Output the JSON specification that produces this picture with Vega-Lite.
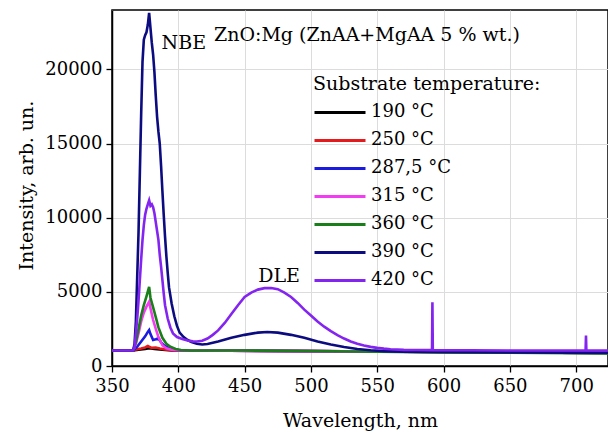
{
  "$schema": "https://vega.github.io/schema/vega-lite/v6.json",
  "width": 496,
  "height": 356,
  "autosize": {"type": "none"},
  "padding": {"left": 112, "top": 10, "right": 0, "bottom": 67},
  "background": "white",
  "config": {
    "font": "DejaVu Serif",
    "view": {"stroke": "black", "strokeWidth": 1.5},
    "axis": {
      "labelFont": "DejaVu Serif", "titleFont": "DejaVu Serif",
      "labelFontSize": 18, "titleFontSize": 19, "titleFontWeight": "normal",
      "labelColor": "black", "titleColor": "black",
      "domainColor": "black", "domainWidth": 1.5,
      "tickColor": "black", "tickWidth": 1.3,
      "gridColor": "#dcdcdc", "gridWidth": 1
    },
    "legend": {
      "labelFont": "DejaVu Serif", "titleFont": "DejaVu Serif",
      "labelFontSize": 18, "titleFontSize": 19, "titleFontWeight": "normal",
      "labelColor": "black", "titleColor": "black"
    }
  },
  "datasets": {
    "spectra": [
      {"wl": 350, "I": 1050, "T": "190 °C"}, {"wl": 366, "I": 1050, "T": "190 °C"}, {"wl": 370, "I": 1100, "T": "190 °C"}, {"wl": 375, "I": 1150, "T": "190 °C"}, {"wl": 378, "I": 1200, "T": "190 °C"}, {"wl": 382, "I": 1150, "T": "190 °C"}, {"wl": 388, "I": 1100, "T": "190 °C"}, {"wl": 395, "I": 1050, "T": "190 °C"}, {"wl": 450, "I": 1030, "T": "190 °C"}, {"wl": 550, "I": 980, "T": "190 °C"}, {"wl": 650, "I": 920, "T": "190 °C"}, {"wl": 724, "I": 880, "T": "190 °C"},

      {"wl": 350, "I": 1050, "T": "250 °C"}, {"wl": 366, "I": 1050, "T": "250 °C"}, {"wl": 368, "I": 1120, "T": "250 °C"}, {"wl": 372, "I": 1180, "T": "250 °C"}, {"wl": 375, "I": 1250, "T": "250 °C"}, {"wl": 377, "I": 1350, "T": "250 °C"}, {"wl": 378, "I": 1300, "T": "250 °C"}, {"wl": 380, "I": 1220, "T": "250 °C"}, {"wl": 383, "I": 1250, "T": "250 °C"}, {"wl": 386, "I": 1180, "T": "250 °C"}, {"wl": 390, "I": 1120, "T": "250 °C"}, {"wl": 395, "I": 1060, "T": "250 °C"}, {"wl": 400, "I": 1050, "T": "250 °C"}, {"wl": 420, "I": 1040, "T": "250 °C"}, {"wl": 500, "I": 1000, "T": "250 °C"}, {"wl": 600, "I": 940, "T": "250 °C"}, {"wl": 724, "I": 880, "T": "250 °C"},

      {"wl": 350, "I": 1050, "T": "287,5 °C"}, {"wl": 366, "I": 1050, "T": "287,5 °C"}, {"wl": 369, "I": 1300, "T": "287,5 °C"}, {"wl": 372, "I": 1650, "T": "287,5 °C"}, {"wl": 375, "I": 2000, "T": "287,5 °C"}, {"wl": 377, "I": 2300, "T": "287,5 °C"}, {"wl": 378, "I": 2420, "T": "287,5 °C"}, {"wl": 379, "I": 2150, "T": "287,5 °C"}, {"wl": 381, "I": 1750, "T": "287,5 °C"}, {"wl": 383, "I": 1800, "T": "287,5 °C"}, {"wl": 385, "I": 1860, "T": "287,5 °C"}, {"wl": 387, "I": 1600, "T": "287,5 °C"}, {"wl": 389, "I": 1400, "T": "287,5 °C"}, {"wl": 392, "I": 1250, "T": "287,5 °C"}, {"wl": 396, "I": 1120, "T": "287,5 °C"}, {"wl": 400, "I": 1070, "T": "287,5 °C"}, {"wl": 420, "I": 1040, "T": "287,5 °C"}, {"wl": 500, "I": 1000, "T": "287,5 °C"}, {"wl": 600, "I": 940, "T": "287,5 °C"}, {"wl": 724, "I": 880, "T": "287,5 °C"},

      {"wl": 350, "I": 1050, "T": "315 °C"}, {"wl": 366, "I": 1050, "T": "315 °C"}, {"wl": 368, "I": 1500, "T": "315 °C"}, {"wl": 370, "I": 2200, "T": "315 °C"}, {"wl": 372, "I": 3000, "T": "315 °C"}, {"wl": 374, "I": 3600, "T": "315 °C"}, {"wl": 376, "I": 4000, "T": "315 °C"}, {"wl": 378, "I": 4330, "T": "315 °C"}, {"wl": 379, "I": 3900, "T": "315 °C"}, {"wl": 381, "I": 3100, "T": "315 °C"}, {"wl": 383, "I": 2500, "T": "315 °C"}, {"wl": 385, "I": 1950, "T": "315 °C"}, {"wl": 388, "I": 1400, "T": "315 °C"}, {"wl": 391, "I": 1200, "T": "315 °C"}, {"wl": 395, "I": 1100, "T": "315 °C"}, {"wl": 400, "I": 1070, "T": "315 °C"}, {"wl": 420, "I": 1040, "T": "315 °C"}, {"wl": 500, "I": 1000, "T": "315 °C"}, {"wl": 600, "I": 940, "T": "315 °C"}, {"wl": 724, "I": 880, "T": "315 °C"},

      {"wl": 350, "I": 1050, "T": "360 °C"}, {"wl": 366, "I": 1050, "T": "360 °C"}, {"wl": 368, "I": 1600, "T": "360 °C"}, {"wl": 370, "I": 2500, "T": "360 °C"}, {"wl": 372, "I": 3400, "T": "360 °C"}, {"wl": 374, "I": 4100, "T": "360 °C"}, {"wl": 376, "I": 4700, "T": "360 °C"}, {"wl": 378, "I": 5340, "T": "360 °C"}, {"wl": 379, "I": 4600, "T": "360 °C"}, {"wl": 381, "I": 3950, "T": "360 °C"}, {"wl": 383, "I": 3300, "T": "360 °C"}, {"wl": 385, "I": 2600, "T": "360 °C"}, {"wl": 388, "I": 1900, "T": "360 °C"}, {"wl": 391, "I": 1500, "T": "360 °C"}, {"wl": 394, "I": 1300, "T": "360 °C"}, {"wl": 398, "I": 1150, "T": "360 °C"}, {"wl": 402, "I": 1080, "T": "360 °C"}, {"wl": 410, "I": 1050, "T": "360 °C"}, {"wl": 450, "I": 1040, "T": "360 °C"}, {"wl": 500, "I": 1010, "T": "360 °C"}, {"wl": 550, "I": 960, "T": "360 °C"}, {"wl": 600, "I": 920, "T": "360 °C"}, {"wl": 650, "I": 890, "T": "360 °C"}, {"wl": 700, "I": 860, "T": "360 °C"}, {"wl": 724, "I": 850, "T": "360 °C"},

      {"wl": 350, "I": 1050, "T": "390 °C"}, {"wl": 366, "I": 1050, "T": "390 °C"}, {"wl": 367, "I": 1500, "T": "390 °C"}, {"wl": 368, "I": 3000, "T": "390 °C"}, {"wl": 369, "I": 6000, "T": "390 °C"}, {"wl": 370, "I": 9000, "T": "390 °C"}, {"wl": 371, "I": 13000, "T": "390 °C"}, {"wl": 372, "I": 17000, "T": "390 °C"}, {"wl": 373, "I": 20500, "T": "390 °C"}, {"wl": 374, "I": 22000, "T": "390 °C"}, {"wl": 375, "I": 22300, "T": "390 °C"}, {"wl": 376, "I": 22500, "T": "390 °C"}, {"wl": 377, "I": 23000, "T": "390 °C"}, {"wl": 378, "I": 23800, "T": "390 °C"}, {"wl": 379, "I": 22800, "T": "390 °C"}, {"wl": 380, "I": 21800, "T": "390 °C"}, {"wl": 381, "I": 21000, "T": "390 °C"}, {"wl": 382, "I": 19800, "T": "390 °C"}, {"wl": 383, "I": 18200, "T": "390 °C"}, {"wl": 384, "I": 16800, "T": "390 °C"}, {"wl": 385, "I": 15800, "T": "390 °C"}, {"wl": 386, "I": 15000, "T": "390 °C"}, {"wl": 387, "I": 13500, "T": "390 °C"}, {"wl": 388, "I": 11800, "T": "390 °C"}, {"wl": 389, "I": 10200, "T": "390 °C"}, {"wl": 390, "I": 8700, "T": "390 °C"}, {"wl": 391, "I": 7400, "T": "390 °C"}, {"wl": 392, "I": 6300, "T": "390 °C"}, {"wl": 393, "I": 5300, "T": "390 °C"}, {"wl": 395, "I": 4200, "T": "390 °C"}, {"wl": 397, "I": 3350, "T": "390 °C"}, {"wl": 399, "I": 2700, "T": "390 °C"}, {"wl": 401, "I": 2250, "T": "390 °C"}, {"wl": 404, "I": 1950, "T": "390 °C"}, {"wl": 407, "I": 1750, "T": "390 °C"}, {"wl": 410, "I": 1620, "T": "390 °C"}, {"wl": 414, "I": 1500, "T": "390 °C"}, {"wl": 418, "I": 1450, "T": "390 °C"}, {"wl": 422, "I": 1480, "T": "390 °C"}, {"wl": 430, "I": 1650, "T": "390 °C"}, {"wl": 440, "I": 1900, "T": "390 °C"}, {"wl": 450, "I": 2100, "T": "390 °C"}, {"wl": 460, "I": 2250, "T": "390 °C"}, {"wl": 467, "I": 2290, "T": "390 °C"}, {"wl": 475, "I": 2250, "T": "390 °C"}, {"wl": 485, "I": 2100, "T": "390 °C"}, {"wl": 495, "I": 1900, "T": "390 °C"}, {"wl": 505, "I": 1650, "T": "390 °C"}, {"wl": 515, "I": 1450, "T": "390 °C"}, {"wl": 525, "I": 1280, "T": "390 °C"}, {"wl": 535, "I": 1150, "T": "390 °C"}, {"wl": 545, "I": 1060, "T": "390 °C"}, {"wl": 555, "I": 1000, "T": "390 °C"}, {"wl": 570, "I": 960, "T": "390 °C"}, {"wl": 600, "I": 940, "T": "390 °C"}, {"wl": 650, "I": 920, "T": "390 °C"}, {"wl": 700, "I": 900, "T": "390 °C"}, {"wl": 724, "I": 890, "T": "390 °C"},

      {"wl": 350, "I": 1050, "T": "420 °C"}, {"wl": 366, "I": 1050, "T": "420 °C"}, {"wl": 367, "I": 1300, "T": "420 °C"}, {"wl": 368, "I": 2200, "T": "420 °C"}, {"wl": 369, "I": 3200, "T": "420 °C"}, {"wl": 370, "I": 4400, "T": "420 °C"}, {"wl": 371, "I": 5800, "T": "420 °C"}, {"wl": 372, "I": 7200, "T": "420 °C"}, {"wl": 373, "I": 8480, "T": "420 °C"}, {"wl": 374, "I": 9500, "T": "420 °C"}, {"wl": 375, "I": 10200, "T": "420 °C"}, {"wl": 376, "I": 10600, "T": "420 °C"}, {"wl": 377, "I": 10900, "T": "420 °C"}, {"wl": 378, "I": 11170, "T": "420 °C"}, {"wl": 379, "I": 10800, "T": "420 °C"}, {"wl": 380, "I": 10900, "T": "420 °C"}, {"wl": 381, "I": 10700, "T": "420 °C"}, {"wl": 382, "I": 10300, "T": "420 °C"}, {"wl": 383, "I": 9700, "T": "420 °C"}, {"wl": 384, "I": 9100, "T": "420 °C"}, {"wl": 385, "I": 8500, "T": "420 °C"}, {"wl": 386, "I": 7500, "T": "420 °C"}, {"wl": 387, "I": 6700, "T": "420 °C"}, {"wl": 388, "I": 5800, "T": "420 °C"}, {"wl": 389, "I": 4900, "T": "420 °C"}, {"wl": 390, "I": 4100, "T": "420 °C"}, {"wl": 392, "I": 3200, "T": "420 °C"}, {"wl": 394, "I": 2600, "T": "420 °C"}, {"wl": 396, "I": 2200, "T": "420 °C"}, {"wl": 399, "I": 1950, "T": "420 °C"}, {"wl": 403, "I": 1820, "T": "420 °C"}, {"wl": 407, "I": 1720, "T": "420 °C"}, {"wl": 411, "I": 1660, "T": "420 °C"}, {"wl": 414, "I": 1650, "T": "420 °C"}, {"wl": 418, "I": 1700, "T": "420 °C"}, {"wl": 422, "I": 1850, "T": "420 °C"}, {"wl": 426, "I": 2100, "T": "420 °C"}, {"wl": 430, "I": 2400, "T": "420 °C"}, {"wl": 435, "I": 2900, "T": "420 °C"}, {"wl": 440, "I": 3500, "T": "420 °C"}, {"wl": 445, "I": 4100, "T": "420 °C"}, {"wl": 450, "I": 4650, "T": "420 °C"}, {"wl": 455, "I": 4950, "T": "420 °C"}, {"wl": 460, "I": 5150, "T": "420 °C"}, {"wl": 465, "I": 5250, "T": "420 °C"}, {"wl": 470, "I": 5260, "T": "420 °C"}, {"wl": 475, "I": 5180, "T": "420 °C"}, {"wl": 480, "I": 4950, "T": "420 °C"}, {"wl": 485, "I": 4650, "T": "420 °C"}, {"wl": 490, "I": 4250, "T": "420 °C"}, {"wl": 495, "I": 3800, "T": "420 °C"}, {"wl": 500, "I": 3400, "T": "420 °C"}, {"wl": 505, "I": 3000, "T": "420 °C"}, {"wl": 510, "I": 2650, "T": "420 °C"}, {"wl": 515, "I": 2350, "T": "420 °C"}, {"wl": 520, "I": 2080, "T": "420 °C"}, {"wl": 525, "I": 1850, "T": "420 °C"}, {"wl": 530, "I": 1650, "T": "420 °C"}, {"wl": 535, "I": 1500, "T": "420 °C"}, {"wl": 540, "I": 1380, "T": "420 °C"}, {"wl": 545, "I": 1290, "T": "420 °C"}, {"wl": 550, "I": 1220, "T": "420 °C"}, {"wl": 555, "I": 1170, "T": "420 °C"}, {"wl": 560, "I": 1130, "T": "420 °C"}, {"wl": 570, "I": 1090, "T": "420 °C"}, {"wl": 580, "I": 1075, "T": "420 °C"}, {"wl": 591.3, "I": 1070, "T": "420 °C"}, {"wl": 591.6, "I": 4300, "T": "420 °C"}, {"wl": 591.9, "I": 1070, "T": "420 °C"}, {"wl": 620, "I": 1060, "T": "420 °C"}, {"wl": 650, "I": 1050, "T": "420 °C"}, {"wl": 680, "I": 1050, "T": "420 °C"}, {"wl": 707.1, "I": 1050, "T": "420 °C"}, {"wl": 707.4, "I": 2060, "T": "420 °C"}, {"wl": 707.7, "I": 1050, "T": "420 °C"}, {"wl": 724, "I": 1045, "T": "420 °C"}
    ],
    "notes": [
      {"wl": 387.4, "I": 21770, "label": "NBE"},
      {"wl": 426.9, "I": 22290, "label": "ZnO:Mg (ZnAA+MgAA 5 % wt.)"},
      {"wl": 460.2, "I": 6060, "label": "DLE"}
    ]
  },
  "layer": [
    {
      "data": {"name": "spectra"},
      "mark": {"type": "line", "strokeWidth": 2.6, "clip": true},
      "encoding": {
        "x": {
          "field": "wl", "type": "quantitative",
          "scale": {"domain": [350, 724], "nice": false, "zero": false},
          "axis": {
            "title": "Wavelength, nm",
            "values": [350, 375, 400, 425, 450, 475, 500, 525, 550, 575, 600, 625, 650, 675, 700],
            "labelExpr": "datum.value % 50 == 0 ? datum.label : ''",
            "tickSize": {"condition": {"test": "datum.value % 50 == 0", "value": 6}, "value": 3.5},
            "gridOpacity": {"condition": {"test": "datum.value % 50 == 0", "value": 1}, "value": 0},
            "labelPadding": 5,
            "labelFlush": false,
            "labelOverlap": false,
            "titleY": 54,
            "titleBaseline": "middle"
          }
        },
        "y": {
          "field": "I", "type": "quantitative",
          "scale": {"domain": [0, 24000], "nice": false},
          "axis": {
            "title": "Intensity, arb. un.",
            "values": [0, 2500, 5000, 7500, 10000, 12500, 15000, 17500, 20000, 22500],
            "labelExpr": "datum.value % 5000 == 0 ? datum.label : ''",
            "format": "d",
            "tickSize": {"condition": {"test": "datum.value % 5000 == 0", "value": 6}, "value": 3.5},
            "gridOpacity": {"condition": {"test": "datum.value % 5000 == 0", "value": 1}, "value": 0},
            "labelPadding": 4,
            "labelFlush": false,
            "labelOverlap": false,
            "titleX": -86,
            "titleY": 175,
            "titleBaseline": "middle",
            "titleAlign": "center"
          }
        },
        "color": {
          "field": "T", "type": "nominal",
          "scale": {
            "domain": ["190 °C", "250 °C", "287,5 °C", "315 °C", "360 °C", "390 °C", "420 °C"],
            "range": ["#000000", "#e41a1c", "#1a1ae0", "#f23cf2", "#1a7f1a", "#0c0c80", "#8424f0"]
          },
          "legend": {
            "title": "Substrate temperature:",
            "titleLimit": 400,
            "orient": "none",
            "legendX": 201,
            "legendY": 65,
            "padding": 0,
            "symbolType": "stroke",
            "symbolSize": 2601,
            "symbolStrokeWidth": 3,
            "labelOffset": 4,
            "clipHeight": 27.6,
            "rowPadding": 0,
            "titlePadding": 4.6
          }
        }
      }
    },
    {
      "data": {"name": "notes"},
      "mark": {"type": "text", "align": "left", "baseline": "middle", "fontSize": 19, "font": "DejaVu Serif", "color": "black"},
      "encoding": {
        "x": {"field": "wl", "type": "quantitative"},
        "y": {"field": "I", "type": "quantitative"},
        "text": {"field": "label"}
      }
    }
  ]
}
